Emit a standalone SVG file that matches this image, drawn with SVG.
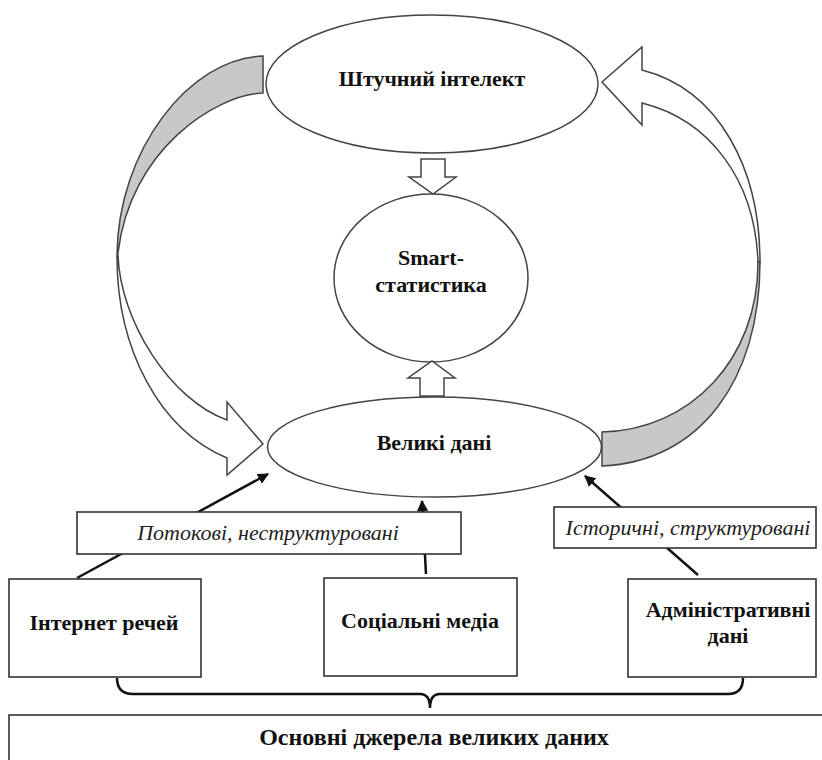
<svg xmlns="http://www.w3.org/2000/svg" width="822" height="760" viewBox="0 0 822 760">
<defs>
<style>
.sh{fill:#fff;stroke:#444;stroke-width:1.5}
.box{fill:#fff;stroke:#333;stroke-width:1.6}
.gray{fill:#c8c8c8;stroke:#444;stroke-width:1.5}
text{font-family:'Liberation Serif','DejaVu Serif',serif}
.t{font-weight:bold;font-size:22px;fill:#111;text-anchor:middle}
.it{font-style:italic;font-size:22px;fill:#222;text-anchor:middle}
.ln{stroke:#111;stroke-width:2.5;fill:none}
</style>
<marker id="ah" viewBox="0 0 10 10" refX="9" refY="5" markerWidth="4.5" markerHeight="4.5" orient="auto" markerUnits="strokeWidth">
<path d="M0,0 L10,5 L0,10 z" fill="#111"/>
</marker>
</defs>

<g id="connectors">
<line class="ln" x1="77" y1="578" x2="268" y2="474" marker-end="url(#ah)"/>
<line class="ln" x1="426" y1="574" x2="422" y2="501" marker-end="url(#ah)"/>
<line class="ln" x1="698" y1="575" x2="585" y2="476" marker-end="url(#ah)"/>
<path class="ln" d="M117,678 Q117,694 133,694 L420,694 Q430,694 430,708 Q430,694 440,694 L728,694 Q743,694 743,678"/>
</g>

<g id="left-curved-arrow">
<path class="gray" d="M263,56 C190,58 117,150 117,257 C118,253 118,253 118,253 C130,150 215,95 263,93 Z"/>
<path class="sh" d="M117,257 C117,350 160,430 227,458 L227,475 L263,444 L227,402 L227,420 C170,400 120,320 118,255 Z"/>
</g>

<g id="right-curved-arrow">
<path class="sh" d="M760,262 C760,170 720,90 642,70 L642,47 L602,82 L642,125 L642,103 C710,120 755,180 758,262 Z"/>
<path class="gray" d="M760,262 C760,380 700,462 602,466 L602,432 C690,430 758,360 758,262 Z"/>
</g>

<g id="ai">
<ellipse class="sh" cx="432" cy="84" rx="166" ry="69"/>
<text class="t" x="432" y="86">Штучний інтелект</text>
</g>

<g id="arrow-down">
<path class="sh" d="M421,159 L445,159 L445,177 L456,177 L433,194 L409,177 L421,177 Z"/>
</g>

<g id="smart">
<ellipse class="sh" cx="431" cy="278" rx="97" ry="84"/>
<text class="t" x="431" y="265">Smart-</text>
<text class="t" x="431" y="292">статистика</text>
</g>

<g id="arrow-up">
<path class="sh" d="M420,396 L444,396 L444,378 L455,378 L432,361 L408,378 L420,378 Z"/>
</g>

<g id="big-data">
<ellipse class="sh" cx="434.5" cy="447" rx="167" ry="50"/>
<text class="t" x="434" y="450">Великі дані</text>
</g>

<g id="streaming">
<rect class="box" x="77" y="512" width="384" height="42"/>
<text class="it" x="268" y="540">Потокові, неструктуровані</text>
</g>

<g id="historical">
<rect class="box" x="554" y="507" width="262" height="41"/>
<text class="it" x="688" y="535">Історичні, структуровані</text>
</g>

<g id="iot">
<rect class="box" x="9" y="579" width="192" height="98"/>
<text class="t" x="104" y="630">Інтернет речей</text>
</g>

<g id="social">
<rect class="box" x="324" y="578" width="193" height="98"/>
<text class="t" x="420" y="628">Соціальні медіа</text>
</g>

<g id="admin">
<rect class="box" x="628" y="579" width="188" height="98"/>
<text class="t" x="728" y="617">Адміністративні</text>
<text class="t" x="728" y="643">дані</text>
</g>

<g id="sources">
<rect class="box" x="9" y="715" width="830" height="60"/>
<text class="t" x="434" y="745" style="font-size:24px">Основні джерела великих даних</text>
</g>
</svg>
